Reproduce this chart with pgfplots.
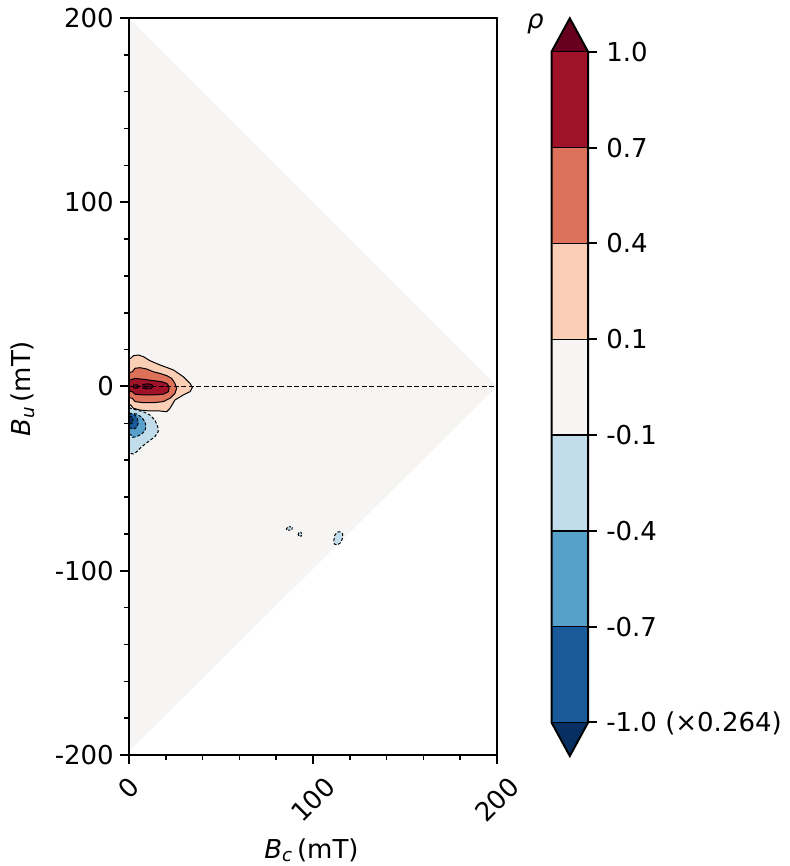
\documentclass[border=0pt]{standalone}
\usepackage{fontspec}
\setmainfont{DejaVu Sans}
\usepackage{pgfplots}
\pgfplotsset{compat=1.18}
\definecolor{cE0}{HTML}{053061}
\definecolor{cB1}{HTML}{1A599A}
\definecolor{cB2}{HTML}{57A0CA}
\definecolor{cB3}{HTML}{C1DDEB}
\definecolor{cMid}{HTML}{F6F5F3}
\definecolor{cR3}{HTML}{FBCEB6}
\definecolor{cR2}{HTML}{DD715A}
\definecolor{cR1}{HTML}{9F1228}
\definecolor{cE1}{HTML}{67001F}
\begin{document}
\fontsize{26}{31}\selectfont
\begin{tikzpicture}
\path[use as bounding box] (-129pt,-111pt) rectangle (660pt,755pt);
\begin{axis}[
  at={(0pt,0pt)}, anchor=south west,
  scale only axis, width=368pt, height=737pt,
  xmin=0, xmax=200, ymin=-200, ymax=200,
  axis on top,
  axis line style={line width=2pt},
  tick align=outside, xtick pos=bottom, ytick pos=left,
  major tick length=9pt, minor tick length=5pt,
  every major tick/.style={line width=2pt, black},
  every minor tick/.style={line width=1.5pt, black},
  xtick={0,100,200},
  xticklabels={\rotatebox{45}{0},\rotatebox{45}{100},\rotatebox{45}{200}},
  minor xtick={20,40,60,80,120,140,160,180},
  ytick={-200,-100,0,100,200},
  yticklabels={-200,-100,0,100,200},
  minor ytick={-180,-160,-140,-120,-80,-60,-40,-20,20,40,60,80,120,140,160,180},
  xticklabel style={anchor=north, inner sep=0pt, yshift=-11pt},
  yticklabel style={anchor=base east, inner sep=0pt, yshift=-9.5pt, xshift=-6pt},
  xlabel={\textit{B}\textsubscript{\textit{c}}\,(mT)},
  ylabel={\textit{B}\textsubscript{\textit{u}}\,(mT)},
  every axis x label/.style={at={(axis description cs:0.4959,-0.1398)}, anchor=base},
  every axis y label/.style={at={(axis description cs:-0.2663,0.497)}, rotate=90, anchor=base},
]
% background triangle (|rho| < 0.1)
\addplot[fill=cMid, draw=none] coordinates {(0,200)(200,0)(0,-198)} --cycle;
% positive lobe
\addplot[fill=cR3, draw=black, line width=1pt] coordinates {
(0,15.0)(0.9,15.3)(2.4,16.7)(5.1,17.1)(7.8,16.2)(11.4,14.0)(16.8,11.7)(24.1,9.0)(29.5,5.3)(33.2,1.7)(34.4,-0.6)(33.2,-2.8)(29.5,-4.6)(25.0,-7.3)(22.3,-11.8)(20.5,-13.7)(16.8,-13.3)(11.4,-13.3)(6.0,-12.8)(2.4,-11.8)(0.9,-10.0)(0,-10.0)} --cycle;
\addplot[fill=cR2, draw=black, line width=1pt] coordinates {
(0,7.5)(1.8,8.0)(3.3,9.9)(6.0,10.2)(9.6,9.5)(13.2,8.0)(16.8,7.1)(20.5,5.9)(23.2,4.4)(25.0,1.7)(25.9,-1.0)(25.0,-3.7)(22.3,-6.4)(18.7,-8.2)(13.2,-8.8)(7.8,-8.8)(3.3,-8.2)(1.8,-6.4)(0,-6.0)} --cycle;
\addplot[fill=cR1, draw=black, line width=1pt] coordinates {
(0,3.5)(1.8,3.9)(3.3,4.4)(7.8,3.9)(13.2,3.2)(17.8,2.6)(20.5,1.7)(21.9,-0.1)(21.4,-2.8)(18.7,-4.2)(13.2,-4.6)(7.8,-4.6)(3.3,-4.2)(1.8,-2.8)(0,-2.5)} --cycle;
\addplot[fill=cE1, draw=black, line width=0.8pt] coordinates {
(2.5,0.8)(4.5,1.0)(5.5,0)(4.5,-1.0)(2.5,-0.8)} --cycle;
\addplot[fill=cE1, draw=black, line width=0.8pt] coordinates {
(7.5,1.0)(10,1.5)(12.5,1.0)(13,0)(12,-1.2)(9,-1.3)(7.5,-0.8)} --cycle;
% negative lobe
\addplot[fill=cB3, draw=black, line width=1pt, dash pattern=on 3pt off 2pt] coordinates {
(0,-11.5)(0.9,-11.8)(4.2,-12.8)(7.8,-13.7)(11.4,-15.5)(14.1,-18.2)(15.6,-21.8)(15.9,-24.5)(14.1,-27.2)(10.5,-29.9)(6.9,-32.7)(4.2,-35.4)(2.4,-36.6)(0.9,-36.3)(0,-35.5)} --cycle;
\addplot[fill=cB2, draw=black, line width=1pt, dash pattern=on 3pt off 2pt] coordinates {
(0,-14.5)(1.5,-14.6)(4.2,-14.9)(6.9,-16.7)(8.7,-19.1)(9.2,-21.4)(8.7,-24.0)(6.9,-25.8)(4.2,-27.2)(2.0,-27.6)(1.1,-26.3)(0,-26)} --cycle;
\addplot[fill=cB1, draw=black, line width=1pt, dash pattern=on 3pt off 2pt] coordinates {
(0,-14.8)(1.5,-14.9)(3.3,-15.5)(4.5,-17.3)(5.1,-19.6)(4.2,-22.2)(2.4,-23.2)(1.5,-22.7)(0,-22.5)} --cycle;
\addplot[fill=cE0, draw=black, line width=0.8pt, dash pattern=on 3pt off 2pt] coordinates {
(0,-16)(1.5,-16.3)(2.3,-18)(1.8,-20)(0,-20.5)} --cycle;
% small negative islands
\addplot[fill=cB3, draw=black, line width=1pt, dash pattern=on 2pt off 1.5pt] coordinates {
(85.5,-77.3)(86.3,-76.3)(87.6,-76.1)(88.7,-76.6)(88.5,-77.5)(87.2,-78.0)(86,-78)} --cycle;
\addplot[fill=cB3, draw=black, line width=1pt, dash pattern=on 2pt off 1.5pt] coordinates {
(91.9,-80.2)(92.4,-79.2)(93.4,-79.1)(93.9,-80)(93.6,-81.2)(92.6,-81.4)} --cycle;
\addplot[fill=cB3, draw=black, line width=1pt, dash pattern=on 3pt off 2pt] coordinates {
(111.3,-83.8)(111.8,-80.8)(113.2,-79.0)(114.8,-78.9)(116.1,-80)(116,-82.5)(115,-84.8)(113.2,-86)(111.6,-85.5)} --cycle;
% Bu = 0 line
\addplot[black, line width=1.2pt, dash pattern=on 5pt off 2.5pt] coordinates {(0,0)(200,0)};
\end{axis}
\begin{axis}[
  at={(422.5pt,-1pt)}, anchor=south west,
  scale only axis, width=36.6pt, height=737.7pt,
  xmin=0, xmax=1, ymin=-0.35, ymax=7.35,
  axis line style={draw=none}, clip=false,
  xtick=\empty,
  ytick={0,1,2,3,4,5,6,7},
  yticklabels={-1.0 (×0.264),-0.7,-0.4,-0.1,0.1,0.4,0.7,1.0},
  ytick pos=right, yticklabel pos=right,
  tick align=outside, major tick length=9pt,
  every major tick/.style={line width=2pt, black},
  yticklabel style={anchor=base west, inner sep=0pt, yshift=-9.5pt, xshift=9pt},
]
\addplot[fill=cE0, draw=none] coordinates {(0,0)(1,0)(0.5,-0.35)} --cycle;
\addplot[fill=cB1, draw=none] coordinates {(0,0)(1,0)(1,1)(0,1)} --cycle;
\addplot[fill=cB2, draw=none] coordinates {(0,1)(1,1)(1,2)(0,2)} --cycle;
\addplot[fill=cB3, draw=none] coordinates {(0,2)(1,2)(1,3)(0,3)} --cycle;
\addplot[fill=cMid, draw=none] coordinates {(0,3)(1,3)(1,4)(0,4)} --cycle;
\addplot[fill=cR3, draw=none] coordinates {(0,4)(1,4)(1,5)(0,5)} --cycle;
\addplot[fill=cR2, draw=none] coordinates {(0,5)(1,5)(1,6)(0,6)} --cycle;
\addplot[fill=cR1, draw=none] coordinates {(0,6)(1,6)(1,7)(0,7)} --cycle;
\addplot[fill=cE1, draw=none] coordinates {(0,7)(1,7)(0.5,7.35)} --cycle;
\pgfplotsinvokeforeach{0,1,2,3,4,5,6,7}{
  \addplot[black, line width=1.3pt] coordinates {(0,#1)(1,#1)};
}
\addplot[black, line width=2pt, line join=miter] coordinates {(0,0)(0,7)(0.5,7.35)(1,7)(1,0)(0.5,-0.35)} --cycle;
\end{axis}
\node[anchor=base west, inner sep=0pt] at (398pt,726.5pt) {\textit{ρ}};
\end{tikzpicture}
\end{document}
